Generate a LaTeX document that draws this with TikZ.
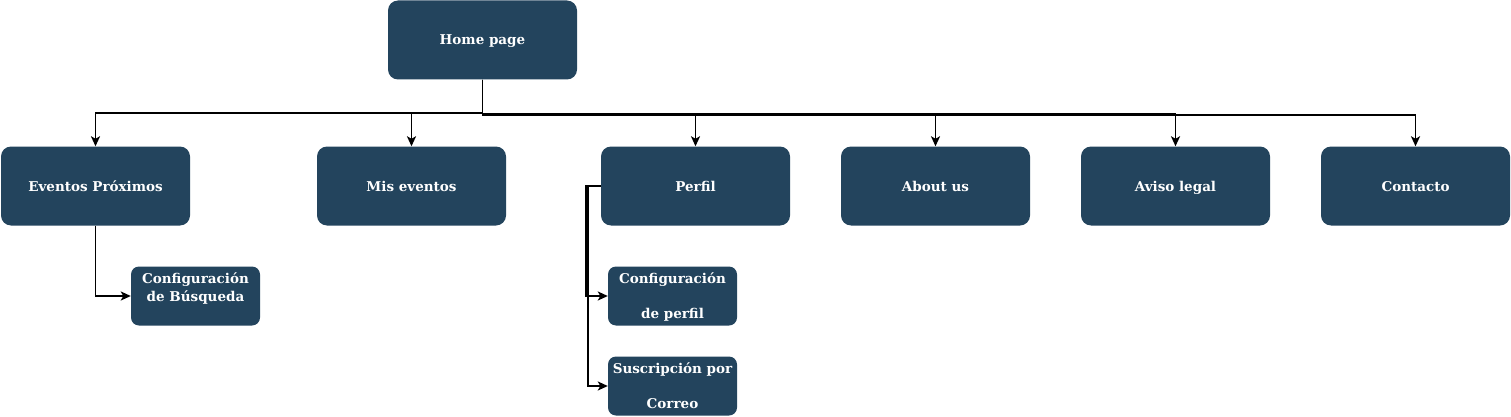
\documentclass[tikz,border=0pt]{standalone}
\usepackage{fontspec}
\setmainfont{DejaVu Serif}
\usetikzlibrary{arrows.meta}
\definecolor{boxblue}{HTML}{23445D}
\newcommand{\topbox}[1]{\parbox[c][59pt][t]{129pt}{\centering\rule{0pt}{17pt}#1}}
\tikzset{
  bigbox/.style={fill=boxblue, draw=none, rounded corners=10pt, minimum width=189pt, minimum height=79pt, inner sep=0pt, text height=12pt, text depth=2pt, text=white, font=\fontsize{13.5}{17}\selectfont\bfseries, align=center},
  smallbox/.style={fill=boxblue, draw=none, rounded corners=8pt, minimum width=129pt, minimum height=59pt, inner sep=0pt, text=white, font=\fontsize{13.5}{17}\selectfont\bfseries},
  conn/.style={draw=black, line width=1.9pt, -{Stealth[length=10pt,width=9pt,inset=2.5pt]}}
}
\begin{document}
\begin{tikzpicture}[x=1pt,y=-1pt]
\useasboundingbox (0,0) rectangle (1511,417);
\node[bigbox] (home) at (482.5,40) {Home page};
\node[bigbox] (ev) at (95.5,186) {Eventos Próximos};
\node[bigbox] (mis) at (411.5,186) {Mis eventos};
\node[bigbox] (perf) at (695.5,186) {Perfil};
\node[bigbox] (about) at (935.5,186) {About us};
\node[bigbox] (aviso) at (1175.5,186) {Aviso legal};
\node[bigbox] (cont) at (1415.5,186) {Contacto};
\node[smallbox] (cfgb) at (195.5,296) {\topbox{Configuración\\[1pt]de Búsqueda}};
\node[smallbox] (cfgp) at (672.5,296) {\topbox{Configuración\\[18pt]de perfil}};
\node[smallbox] (sus) at (672.5,386) {\topbox{Suscripción por\\[18pt]Correo}};

\draw[conn] (home.south) -- ++(0,33) -| (ev.north);
\draw[conn] (home.south) -- ++(0,33) -| (mis.north);
\draw[conn] (home.south) -- ++(0,34) -| (perf.north);
\draw[conn] (home.south) -- ++(0,34) -| (about.north);
\draw[conn] (home.south) -- ++(0,34) -| (aviso.north);
\draw[conn] (home.south) -- ++(0,35) -| (cont.north);
\draw[conn] (ev.south) |- (cfgb.west);
\draw[conn] (perf.west) -- ++(-15,0) |- (cfgp.west);
\draw[conn] (perf.west) -- ++(-13,0) |- (sus.west);
\end{tikzpicture}
\end{document}
